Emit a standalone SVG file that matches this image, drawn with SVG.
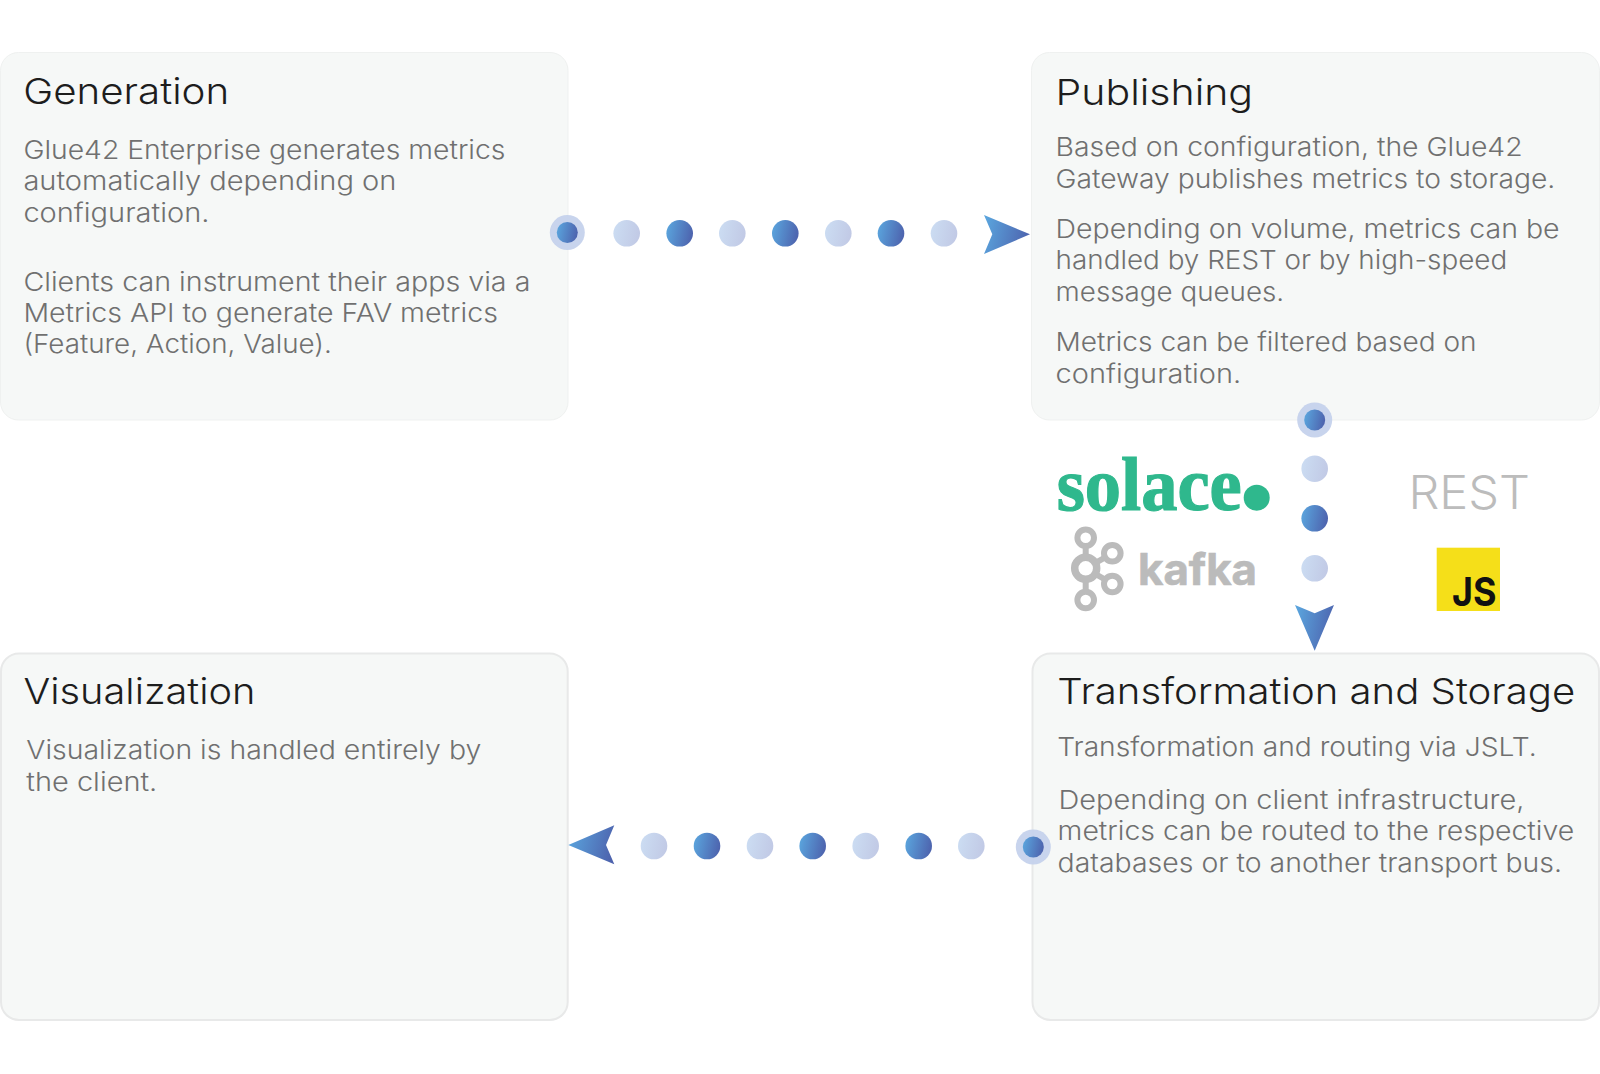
<svg xmlns="http://www.w3.org/2000/svg" width="1600" height="1074" viewBox="0 0 1600 1074">
<style>
text{font-family:"Inter","Liberation Sans",sans-serif;}
.box{fill:#f6f8f7;stroke:#eff1f0;stroke-width:1;}
.box2{fill:#f6f8f7;stroke:#e8e9e9;stroke-width:2;}
.h{font-size:36px;font-weight:300;fill:#1d1d1d;}
.b{font-size:26px;font-weight:300;fill:#707070;}
.d{fill:url(#gDark);}
.l{fill:url(#gLight);}
.ring{fill:#c3d0eb;fill-opacity:.92;}
.k{fill:none;stroke:#bbbbbb;}
</style>
<defs>
<linearGradient id="gDark" x1="0" y1="0.4" x2="1" y2="0.6"><stop offset="0" stop-color="#5aa3dc"/><stop offset="1" stop-color="#4d62ad"/></linearGradient>
<linearGradient id="gLight" x1="0" y1="0.4" x2="1" y2="0.6"><stop offset="0" stop-color="#cbdcf2"/><stop offset="1" stop-color="#c1c9e5"/></linearGradient>
</defs>
<rect width="1600" height="1074" fill="#ffffff"/>
<g id="node-generation">
<rect class="box" x="0.5" y="52.5" width="567.5" height="367.5" rx="18"/>
<text class="h" x="23.2" y="104" textLength="206" lengthAdjust="spacingAndGlyphs">Generation</text>
<text class="b" x="23.4" y="159" textLength="482" lengthAdjust="spacingAndGlyphs">Glue42 Enterprise generates metrics</text>
<text class="b" x="23.4" y="190" textLength="373" lengthAdjust="spacingAndGlyphs">automatically depending on</text>
<text class="b" x="23.4" y="221.7" textLength="186" lengthAdjust="spacingAndGlyphs">configuration.</text>
<text class="b" x="23.4" y="290.5" textLength="507" lengthAdjust="spacingAndGlyphs">Clients can instrument their apps via a</text>
<text class="b" x="23.4" y="321.7" textLength="474.5" lengthAdjust="spacingAndGlyphs">Metrics API to generate FAV metrics</text>
<text class="b" x="23.4" y="353.4" textLength="308.5" lengthAdjust="spacingAndGlyphs">(Feature, Action, Value).</text>
</g>
<g id="node-publishing">
<rect class="box" x="1031.5" y="52.5" width="568" height="367.5" rx="18"/>
<text class="h" x="1055.6" y="104.6" textLength="197.5" lengthAdjust="spacingAndGlyphs">Publishing</text>
<text class="b" x="1055.6" y="156.3" textLength="467" lengthAdjust="spacingAndGlyphs">Based on configuration, the Glue42</text>
<text class="b" x="1055.6" y="187.7" textLength="499.6" lengthAdjust="spacingAndGlyphs">Gateway publishes metrics to storage.</text>
<text class="b" x="1055.6" y="237.7" textLength="504" lengthAdjust="spacingAndGlyphs">Depending on volume, metrics can be</text>
<text class="b" x="1055.6" y="269" textLength="451.6" lengthAdjust="spacingAndGlyphs">handled by REST or by high-speed</text>
<text class="b" x="1055.6" y="300.7" textLength="228.6" lengthAdjust="spacingAndGlyphs">message queues.</text>
<text class="b" x="1055.6" y="350.7" textLength="421" lengthAdjust="spacingAndGlyphs">Metrics can be filtered based on</text>
<text class="b" x="1055.6" y="382.7" textLength="185.6" lengthAdjust="spacingAndGlyphs">configuration.</text>
</g>
<g id="node-transformation">
<rect class="box2" x="1032.5" y="653.5" width="566.5" height="366.5" rx="18"/>
<text class="h" x="1057.2" y="704.4" textLength="518" lengthAdjust="spacingAndGlyphs">Transformation and Storage</text>
<text class="b" x="1057.2" y="756.3" textLength="479.5" lengthAdjust="spacingAndGlyphs">Transformation and routing via JSLT.</text>
<text class="b" x="1058.4" y="808.8" textLength="466" lengthAdjust="spacingAndGlyphs">Depending on client infrastructure,</text>
<text class="b" x="1057.6" y="840" textLength="516.6" lengthAdjust="spacingAndGlyphs">metrics can be routed to the respective</text>
<text class="b" x="1057.6" y="871.7" textLength="504.4" lengthAdjust="spacingAndGlyphs">databases or to another transport bus.</text>
</g>
<g id="node-visualization">
<rect class="box2" x="1" y="653.5" width="566.7" height="366.5" rx="18"/>
<text class="h" x="23.5" y="704.4" textLength="232" lengthAdjust="spacingAndGlyphs">Visualization</text>
<text class="b" x="26.3" y="759.3" textLength="455" lengthAdjust="spacingAndGlyphs">Visualization is handled entirely by</text>
<text class="b" x="26.3" y="790.8" textLength="131" lengthAdjust="spacingAndGlyphs">the client.</text>
</g>
<g id="logo-solace">
<text x="1056.7" y="510" font-size="76" font-weight="700" fill="#2fb88d" stroke="#2fb88d" stroke-width="1.2" textLength="185" lengthAdjust="spacingAndGlyphs" style="font-family:'Liberation Serif',serif">solace</text>
<circle cx="1256.7" cy="497.7" r="13" fill="#2fb88d"/>
</g>
<g id="logo-kafka">
<path class="k" stroke-width="6" d="M1085.7 546V557M1085.7 580V591M1095.5 562.8L1105 557.5M1095.5 574L1105 579.5"/>
<circle class="k" stroke-width="6" cx="1085.7" cy="537.7" r="8.3"/>
<circle class="k" stroke-width="6" cx="1085.7" cy="600" r="8.3"/>
<circle class="k" stroke-width="7.5" cx="1085.7" cy="568.3" r="11"/>
<circle class="k" stroke-width="6" cx="1112.3" cy="553.3" r="8.3"/>
<circle class="k" stroke-width="6" cx="1112.3" cy="584" r="8.3"/>
<text x="1138" y="585" font-size="44" font-weight="700" fill="#bbbbbb" stroke="#bbbbbb" stroke-width=".7" textLength="119" lengthAdjust="spacingAndGlyphs">kafka</text>
</g>
<g id="logo-rest">
<text x="1408.5" y="509" font-size="46" font-weight="300" fill="#bcbcbc" textLength="121.5" lengthAdjust="spacingAndGlyphs">REST</text>
</g>
<g id="logo-js">
<rect x="1436.7" y="547.7" width="63.3" height="63.3" fill="#f5df19"/>
<text x="1452" y="606" font-size="40" font-weight="700" fill="#111111" textLength="44.5" lengthAdjust="spacingAndGlyphs">JS</text>
</g>
<g id="connectors">
<g id="conn-gen-pub">
<circle class="ring" cx="567.3" cy="232.5" r="17.5"/><circle class="d" cx="567.3" cy="232.5" r="10.5"/>
<circle class="l" cx="626.7" cy="233.3" r="13.3"/><circle class="d" cx="679.7" cy="233.3" r="13.3"/>
<circle class="l" cx="732.3" cy="233.3" r="13.3"/><circle class="d" cx="785.3" cy="233.3" r="13.3"/>
<circle class="l" cx="838.3" cy="233.3" r="13.3"/><circle class="d" cx="891" cy="233.3" r="13.3"/>
<circle class="l" cx="944" cy="233.3" r="13.3"/>
<polygon class="d" points="984,215 1030,234.3 984,254 992.3,234.3"/>
</g>
<g id="conn-pub-trans">
<circle class="ring" cx="1314.7" cy="420" r="17.5"/><circle class="d" cx="1314.7" cy="420" r="10.5"/>
<circle class="l" cx="1314.7" cy="468.7" r="13.3"/><circle class="d" cx="1314.7" cy="518.3" r="13.3"/>
<circle class="l" cx="1314.7" cy="568.3" r="13.3"/>
<polygon class="d" points="1295,605 1314.7,613.3 1334,605 1314.7,650.7"/>
</g>
<g id="conn-trans-vis">
<circle class="ring" cx="1033.3" cy="847" r="17.5"/><circle class="d" cx="1033.3" cy="847" r="10.5"/>
<circle class="l" cx="971.3" cy="846" r="13.3"/><circle class="d" cx="918.7" cy="846" r="13.3"/>
<circle class="l" cx="865.7" cy="846" r="13.3"/><circle class="d" cx="812.7" cy="846" r="13.3"/>
<circle class="l" cx="760" cy="846" r="13.3"/><circle class="d" cx="707" cy="846" r="13.3"/>
<circle class="l" cx="654" cy="846" r="13.3"/>
<polygon class="d" points="614.3,825.3 606,845 614.3,864.3 568.3,845"/>
</g>
</g>
</svg>
